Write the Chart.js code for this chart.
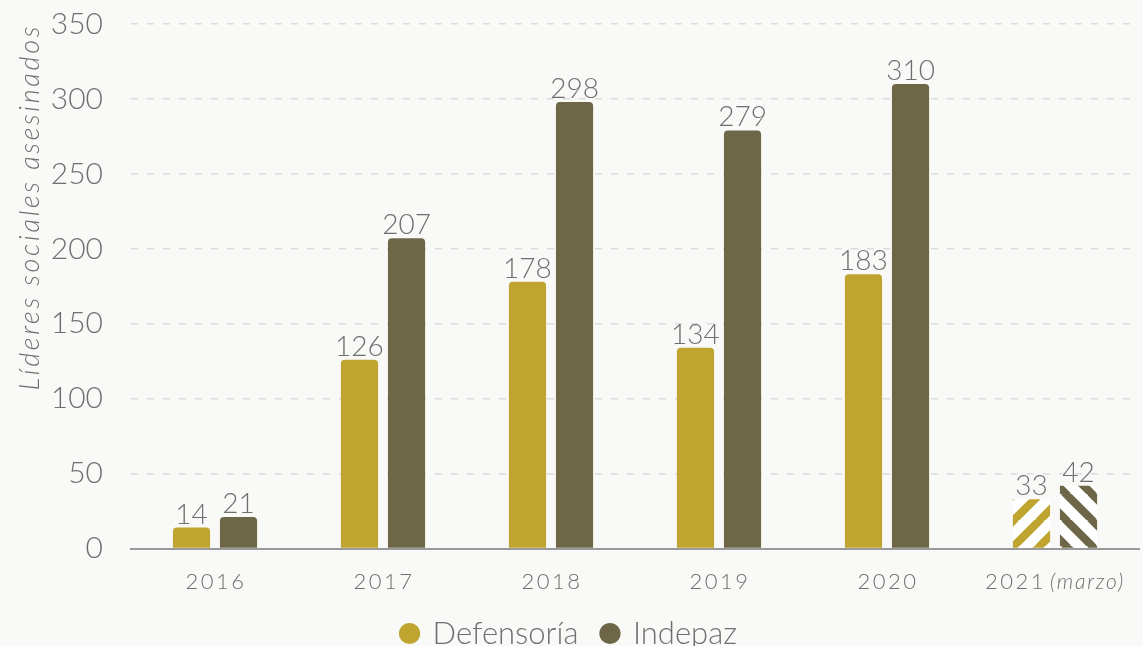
<!DOCTYPE html>
<html>
<head>
<meta charset="utf-8">
<script src="https://cdn.jsdelivr.net/npm/chart.js@4/dist/chart.umd.min.js"></script>
<style>
  html, body { margin: 0; padding: 0; background: #f9f9f7; }
  #wrap { width: 1143px; height: 646px; position: relative; }
</style>
</head>
<body>
<div id="wrap"><canvas id="c" width="1143" height="646"></canvas></div>
<script>
const categories = ['2016', '2017', '2018', '2019', '2020', '2021'];
const categoryNotes = ['', '', '', '', '', '(marzo)'];
const defensoria = [14, 126, 178, 134, 183, 33];
const indepaz = [21, 207, 298, 279, 310, 42];
const seriesNames = ['Defensoría', 'Indepaz'];
const yTicks = [0, 50, 100, 150, 200, 250, 300, 350];
const partialIndex = 5;

const GOLD = '#bfa52f';
const OLIVE = '#6d6748';
const TEXT = '#6f6f6f';
const FONT = 'Lato';

function hatch(color, dir) {
  const s = 26;
  const c = document.createElement('canvas');
  c.width = s; c.height = s;
  const x = c.getContext('2d');
  x.fillStyle = '#ffffff';
  x.fillRect(0, 0, s, s);
  x.strokeStyle = color;
  x.lineWidth = 8;
  x.beginPath();
  if (dir > 0) {
    for (let k = -1; k <= 1; k++) {
      x.moveTo(k * s - 2, s + 2); x.lineTo(k * s + s + 2, -2);
    }
  } else {
    for (let k = -1; k <= 1; k++) {
      x.moveTo(k * s - 2, -2); x.lineTo(k * s + s + 2, s + 2);
    }
  }
  x.stroke();
  return x.createPattern(c, 'repeat');
}

const goldPat = hatch(GOLD, 1);
const olivePat = hatch(OLIVE, -1);

const colorsFor = (solid, pat) => categories.map((_, i) => i === partialIndex ? pat : solid);

// wider tracking for the rotated axis title only
const titleSpacing = {
  id: 'titleSpacing',
  afterLayout(chart) {
    const s = chart.scales.y;
    if (s && !s._spacedTitle) {
      const orig = s.drawTitle.bind(s);
      s.drawTitle = function () {
        this.ctx.save();
        this.ctx.letterSpacing = '2.7px';
        orig();
        this.ctx.restore();
      };
      s._spacedTitle = true;
    }
  }
};

const valueLabels = {
  id: 'valueLabels',
  afterDatasetsDraw(chart) {
    const ctx = chart.ctx;
    ctx.save();
    ctx.font = `300 28px ${FONT}`;
    ctx.fillStyle = TEXT;
    ctx.textAlign = 'center';
    ctx.textBaseline = 'alphabetic';
    chart.data.datasets.forEach((ds, di) => {
      const meta = chart.getDatasetMeta(di);
      meta.data.forEach((el, i) => {
        ctx.fillText(String(ds.data[i]), el.x, el.y - 4);
      });
    });
    ctx.restore();
  }
};

const xLabels = {
  id: 'xLabels',
  afterDraw(chart) {
    const sc = chart.scales.x;
    const ctx = chart.ctx;
    ctx.save();
    ctx.fillStyle = TEXT;
    ctx.textBaseline = 'alphabetic';
    const y = 589;
    categories.forEach((cat, i) => {
      const cx = sc.getPixelForValue(i);
      const note = categoryNotes[i];
      ctx.letterSpacing = '2.5px';
      ctx.font = `300 22px ${FONT}`;
      const w1 = ctx.measureText(cat).width;
      if (!note) {
        ctx.textAlign = 'center';
        ctx.fillText(cat, cx + 1, y);
      } else {
        ctx.letterSpacing = '1.8px';
        ctx.font = `italic 300 21px ${FONT}`;
        const w2 = ctx.measureText(note).width;
        const gap = 4;
        const total = w1 + gap + w2;
        const x0 = cx - total / 2;
        ctx.textAlign = 'left';
        ctx.letterSpacing = '2.5px';
        ctx.font = `300 22px ${FONT}`;
        ctx.fillText(cat, x0, y);
        ctx.letterSpacing = '1.8px';
        ctx.font = `italic 300 21px ${FONT}`;
        ctx.fillText(note, x0 + w1 + gap, y);
      }
    });
    ctx.restore();
  }
};

new Chart(document.getElementById('c'), {
  type: 'bar',
  data: {
    labels: categories,
    datasets: [
      {
        label: seriesNames[0],
        data: defensoria,
        backgroundColor: colorsFor(GOLD, goldPat),
        borderRadius: (c) => c.dataIndex === partialIndex ? 0 : 4,
        borderSkipped: 'bottom',
        categoryPercentage: 0.56,
        barPercentage: 0.79
      },
      {
        label: seriesNames[1],
        data: indepaz,
        backgroundColor: colorsFor(OLIVE, olivePat),
        borderRadius: (c) => c.dataIndex === partialIndex ? 0 : 4,
        borderSkipped: 'bottom',
        categoryPercentage: 0.56,
        barPercentage: 0.79
      }
    ]
  },
  options: {
    responsive: false,
    animation: false,
    devicePixelRatio: 1,
    layout: { padding: { top: 24, right: 4, left: 0, bottom: -13 } },
    plugins: {
      tooltip: { enabled: false },
      legend: {
        position: 'bottom',
        labels: {
          usePointStyle: true,
          pointStyle: 'circle',
          boxWidth: 15,
          boxHeight: 15,
          padding: 24,
          color: TEXT,
          font: { family: FONT, size: 31, weight: '300' }
        }
      }
    },
    scales: {
      x: {
        grid: { display: false, drawTicks: false },
        border: { display: true, color: '#9a9a9a', width: 2 },
        ticks: {
          color: 'rgba(0,0,0,0)',
          padding: 9.5,
          font: { family: FONT, size: 22, weight: '300' }
        }
      },
      y: {
        min: 0,
        max: 350,
        afterBuildTicks: (s) => { s.ticks = yTicks.map(v => ({ value: v })); },
        afterFit: (s) => { s.width = 131; },
        border: { display: false, dash: [7, 9] },
        grid: {
          drawTicks: true,
          tickLength: 28,
          tickColor: 'rgba(0,0,0,0)',
          color: (c) => c.tick && c.tick.value === 0 ? 'rgba(0,0,0,0)' : '#dcdcdc',
          lineWidth: 1.5
        },
        ticks: {
          color: TEXT,
          padding: 0,
          font: { family: FONT, size: 30, weight: '300' }
        },
        title: {
          display: true,
          text: 'Líderes sociales asesinados',
          align: 'end',
          color: TEXT,
          padding: { top: 14, bottom: 0 },
          font: { family: FONT, size: 27, style: 'italic', weight: '300' }
        }
      }
    }
  },
  plugins: [titleSpacing, valueLabels, xLabels]
});
</script>
</body>
</html>
